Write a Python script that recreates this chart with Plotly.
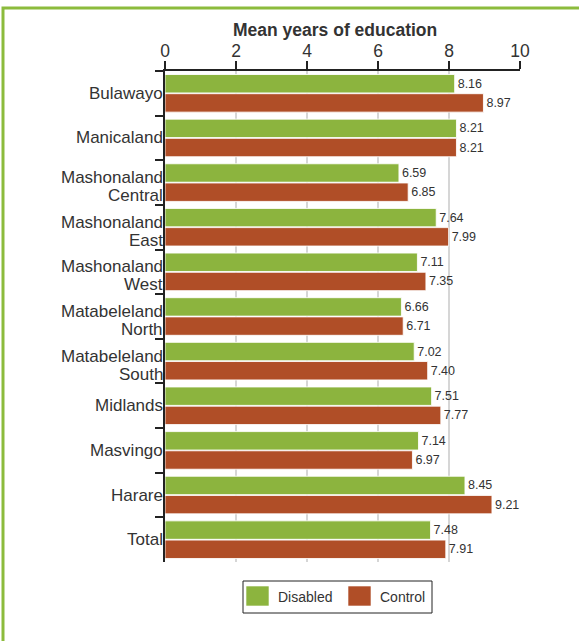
import plotly.graph_objects as go

# Provinces (two-line names are split at <br>)
provinces = [
    "Bulawayo", "Manicaland", "Mashonaland<br>Central", "Mashonaland<br>East",
    "Mashonaland<br>West", "Matabeleland<br>North", "Matabeleland<br>South",
    "Midlands", "Masvingo", "Harare", "Total",
]
disabled = [8.16, 8.21, 6.59, 7.64, 7.11, 6.66, 7.02, 7.51, 7.14, 8.45, 7.48]
control = [8.97, 8.21, 6.85, 7.99, 7.35, 6.71, 7.40, 7.77, 6.97, 9.21, 7.91]
series_names = ["Disabled", "Control"]
x_ticks = [0, 2, 4, 6, 8, 10]

GREEN = "#8cb43e"
RUST = "#b04e27"
TEXT = "#333333"
FONT = "Liberation Sans, Arial"

W, H = 579, 641
L, R, T, B = 165, 59, 71, 79
PW, PH = W - L - R, H - T - B


def px_x(p):
    return (p - L) / PW


def px_y(p):
    return (H - B - p) / PH


fig = go.Figure()
for name, vals, col in zip(series_names, [disabled, control], [GREEN, RUST]):
    fig.add_trace(go.Bar(
        name=name, y=provinces, x=vals, orientation="h",
        marker=dict(color=col, line=dict(color="rgba(255,255,255,0.85)", width=1)),
        text=[f"{v:.2f}" for v in vals], textposition="outside",
        textfont=dict(size=12.5, color=TEXT, family=FONT),
        cliponaxis=False, showlegend=False,
    ))

# Category labels, with tighter spacing for the two-line names
for cat in provinces:
    lines = cat.split("<br>")
    shifts = [0] if len(lines) == 1 else [5, -13]
    for line, dy in zip(lines, shifts):
        fig.add_annotation(text=line, xref="paper", yref="y", x=0, y=cat,
                           xanchor="right", yanchor="middle", xshift=-1, yshift=dy,
                           borderpad=0, showarrow=False,
                           font=dict(size=17, color=TEXT, family=FONT))

# Axis title above the tick labels
fig.add_annotation(text="<b>Mean years of education</b>", xref="paper", yref="paper",
                   x=px_x(334.5), y=px_y(30), xanchor="center", yanchor="middle",
                   showarrow=False, font=dict(size=17.5, color=TEXT, family=FONT))

# Legend box with swatches
fig.add_shape(type="rect", xref="paper", yref="paper",
              x0=px_x(243), x1=px_x(432), y0=px_y(613), y1=px_y(581),
              line=dict(color="#222222", width=1), fillcolor="white")
for (sx0, sx1, tx), name, col in zip([(246, 269, 276), (348, 371, 378)], series_names, [GREEN, RUST]):
    fig.add_shape(type="rect", xref="paper", yref="paper",
                  x0=px_x(sx0), x1=px_x(sx1), y0=px_y(606), y1=px_y(586),
                  line=dict(color="rgba(255,255,255,0.6)", width=1), fillcolor=col)
    fig.add_annotation(text=name, xref="paper", yref="paper", x=px_x(tx), y=px_y(597),
                       xanchor="left", yanchor="middle", showarrow=False,
                       font=dict(size=14, color=TEXT, family=FONT))

# Light green frame along the left and top edges
fig.add_shape(type="path", xref="paper", yref="paper",
              path=f"M {px_x(3)},{px_y(660)} L {px_x(3)},{px_y(8)} L {px_x(600)},{px_y(8)}",
              line=dict(color="#8cbb3c", width=3))

fig.update_layout(
    width=W, height=H,
    margin=dict(l=L, r=R, t=T, b=B),
    paper_bgcolor="white", plot_bgcolor="white",
    font=dict(family=FONT, color=TEXT, size=16),
    barmode="group", bargap=0.14, bargroupgap=0.04,
    showlegend=False,
    xaxis=dict(
        side="top", range=[0, 10], tickvals=x_ticks, ticks="outside", ticklen=8,
        tickcolor="#222222", tickwidth=1.5, showline=True, linecolor="#222222",
        linewidth=1.5, showgrid=True, gridcolor="#d6d6d6", gridwidth=1.5,
        zeroline=False, tickfont=dict(size=17.5, color=TEXT), ticklabelstandoff=-3,
    ),
    yaxis=dict(
        autorange="reversed", ticks="outside", tickson="boundaries", ticklen=8,
        tickcolor="#222222", tickwidth=1.5, showline=True, linecolor="#222222",
        linewidth=1.5, showticklabels=False, showgrid=False,
    ),
)

fig.write_html("out.html")
